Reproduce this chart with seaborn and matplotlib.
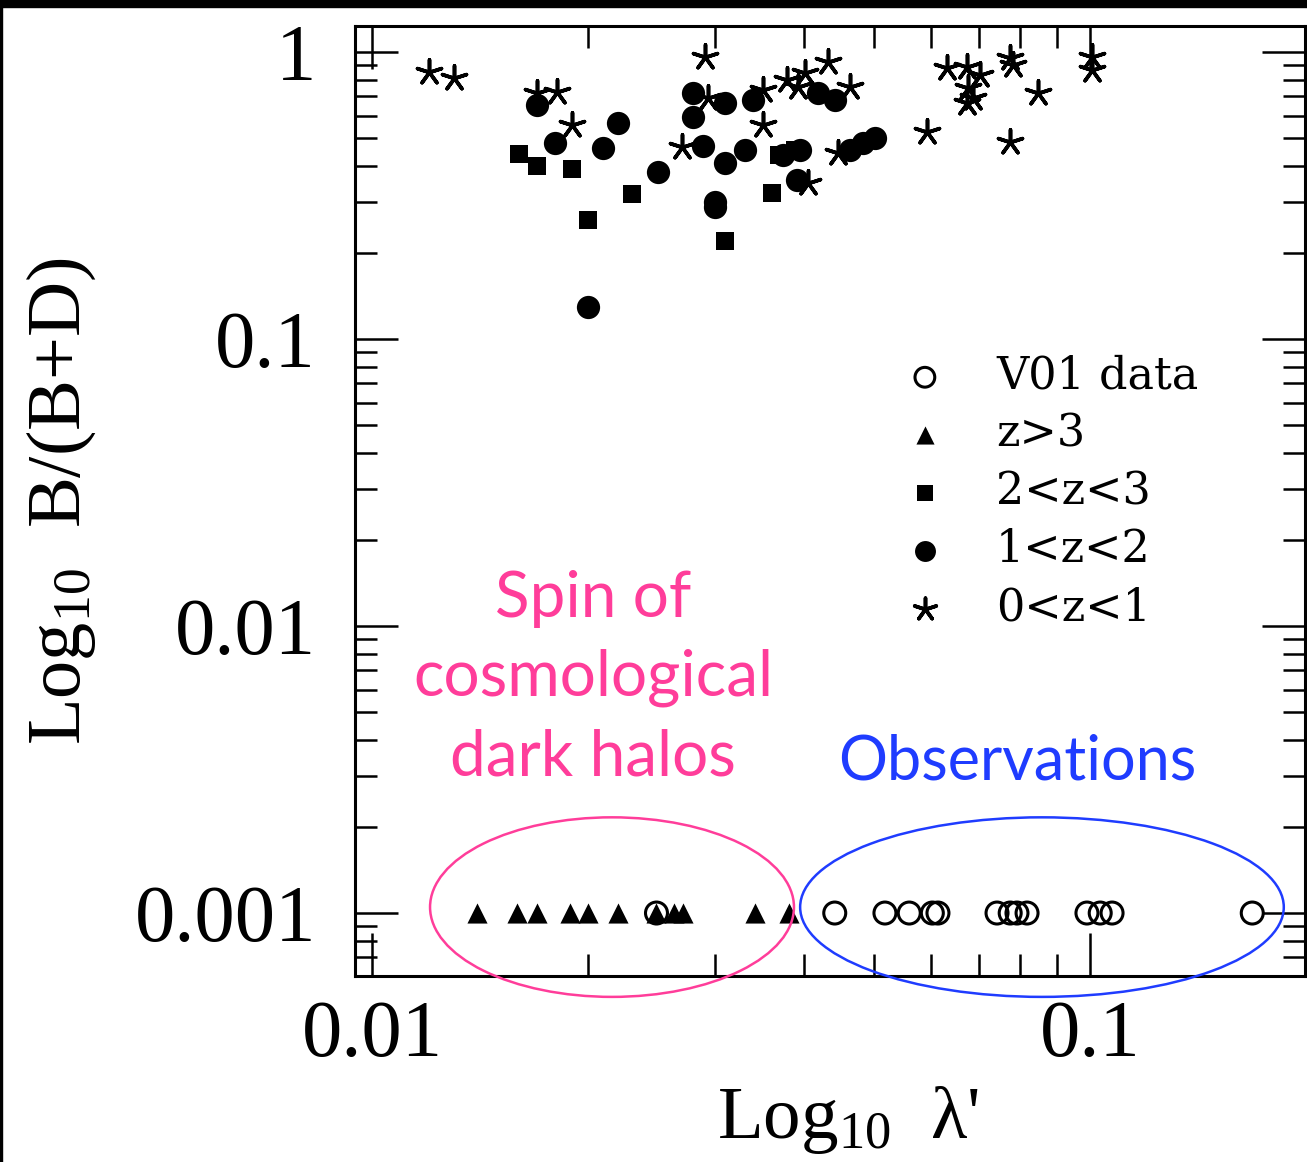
import numpy as np
import pandas as pd
import matplotlib
matplotlib.use("Agg")
import matplotlib.pyplot as plt
from matplotlib.patches import Ellipse, Rectangle
from matplotlib.ticker import LogLocator, NullFormatter
import seaborn as sns

# V01 data (open circles)
v01_lam = [0.0249, 0.0441, 0.0518, 0.0560, 0.0603, 0.0614, 0.0742, 0.0774,
           0.0791, 0.0817, 0.0990, 0.1033, 0.1073, 0.1682]
v01_bd = [0.001, 0.001, 0.001, 0.001, 0.001, 0.001, 0.001, 0.001,
          0.001, 0.001, 0.001, 0.001, 0.001, 0.001]

# z > 3 (triangles)
z3_lam = [0.0140, 0.0159, 0.0170, 0.0189, 0.0200, 0.0220, 0.0249, 0.0263,
          0.0271, 0.0342, 0.0381]
z3_bd = [0.001, 0.001, 0.001, 0.001, 0.001, 0.001, 0.001, 0.001,
         0.001, 0.001, 0.001]

# 2 < z < 3 (squares)
z23_lam = [0.0160, 0.0170, 0.0190, 0.0230, 0.0200, 0.0361, 0.0310, 0.0369, 0.0388]
z23_bd = [0.441, 0.401, 0.391, 0.320, 0.260, 0.323, 0.220, 0.438, 0.456]

# 1 < z < 2 (filled circles)
z12_lam = [0.0170, 0.0220, 0.0180, 0.0210, 0.0250, 0.0200, 0.0280, 0.0280,
           0.0310, 0.0339, 0.0289, 0.0310, 0.0331, 0.0300, 0.0300, 0.0418,
           0.0441, 0.0374, 0.0395, 0.0391, 0.0463, 0.0483, 0.0502]
z12_bd = [0.654, 0.566, 0.482, 0.463, 0.382, 0.129, 0.720, 0.594,
          0.664, 0.681, 0.471, 0.410, 0.456, 0.300, 0.288, 0.720,
          0.681, 0.438, 0.456, 0.358, 0.456, 0.482, 0.502]

# 0 < z < 1 (asterisks)
z01_lam = [0.0120, 0.0130, 0.0170, 0.0181, 0.0190, 0.0291, 0.0294, 0.0270,
           0.0350, 0.0350, 0.0378, 0.0401, 0.0392, 0.0432, 0.0463, 0.0405,
           0.0446, 0.0632, 0.0674, 0.0703, 0.0677, 0.0674, 0.0687, 0.0774,
           0.0781, 0.0846, 0.0593, 0.0774, 0.1006, 0.1006]
z01_bd = [0.852, 0.812, 0.720, 0.726, 0.557, 0.961, 0.691, 0.467,
          0.737, 0.557, 0.799, 0.845, 0.755, 0.923, 0.755, 0.350,
          0.445, 0.880, 0.887, 0.832, 0.749, 0.664, 0.691, 0.953,
          0.901, 0.720, 0.526, 0.486, 0.961, 0.866]

x_ticks = [0.01, 0.1]
x_ticklabels = ["0.01", "0.1"]
y_ticks = [0.001, 0.01, 0.1, 1]
y_ticklabels = ["0.001", "0.01", "0.1", "1"]

PINK = "#ff3d9a"
BLUE = "#1f3cff"

sns.set_style("ticks")
plt.rcParams["font.family"] = ["Liberation Serif", "DejaVu Serif"]
plt.rcParams["mathtext.fontset"] = "custom"
plt.rcParams["mathtext.rm"] = "Liberation Serif"
plt.rcParams["mathtext.it"] = "Liberation Serif:italic"
plt.rcParams["text.color"] = "black"
plt.rcParams["axes.labelcolor"] = "black"
plt.rcParams["xtick.color"] = "black"
plt.rcParams["ytick.color"] = "black"

fig = plt.figure(figsize=(13.07, 11.62), dpi=100)
ax = fig.add_axes([0.2716, 0.160, 0.727, 0.8176])

sns.scatterplot(x=v01_lam, y=v01_bd, ax=ax, marker="o", s=250, color="black",
                facecolor="none", edgecolor="black", linewidth=2.2, label="V01 data",
                zorder=3)
sns.scatterplot(x=z3_lam, y=z3_bd, ax=ax, marker="^", s=210, color="black",
                edgecolor="black", linewidth=0, label="z>3", zorder=3)
sns.scatterplot(x=z23_lam, y=z23_bd, ax=ax, marker="s", s=150, color="black",
                edgecolor="black", linewidth=0, label="2<z<3", zorder=3)
sns.scatterplot(x=z12_lam, y=z12_bd, ax=ax, marker="o", s=280, color="black",
                edgecolor="black", linewidth=0, label="1<z<2", zorder=3)
sns.scatterplot(x=z01_lam, y=z01_bd, ax=ax, marker=(5, 2, 0), s=330, color="black",
                edgecolor="black", linewidth=2.6, label="0<z<1", zorder=3)

ax.set_xscale("log")
ax.set_yscale("log")
ax.set_xlim(0.00947, 0.1993)
ax.set_ylim(0.000603, 1.232)

ax.set_xticks(x_ticks)
ax.set_xticklabels(x_ticklabels)
ax.set_yticks(y_ticks)
ax.set_yticklabels(y_ticklabels)
ax.xaxis.set_minor_locator(LogLocator(base=10, subs=np.arange(2, 10), numticks=20))
ax.yaxis.set_minor_locator(LogLocator(base=10, subs=np.arange(2, 10), numticks=20))
ax.xaxis.set_minor_formatter(NullFormatter())
ax.yaxis.set_minor_formatter(NullFormatter())

ax.tick_params(which="both", direction="in", top=True, right=True, width=1.8,
               color="black", labelcolor="black")
ax.tick_params(which="major", length=31, labelsize=58)
ax.tick_params(which="minor", length=16)
ax.tick_params(axis="x", which="major", pad=17)
ax.tick_params(axis="y", which="major", pad=28)
for sp in ax.spines.values():
    sp.set_linewidth(2.2)
    sp.set_color("black")

ax.set_xlabel("Log$_{10}$  λ'", fontsize=54)
ax.set_ylabel("Log$_{10}$  B/(B+D)", fontsize=55)
ax.xaxis.set_label_coords(0.519, -0.114)
ax.yaxis.set_label_coords(-0.27, 0.5)

leg = ax.legend(loc="upper left", bbox_to_anchor=(0.553, 0.654), frameon=False,
                prop={"family": "DejaVu Serif", "size": 32}, markerscale=0.9,
                handletextpad=0.6, labelspacing=0.33, borderpad=0,
                borderaxespad=0, scatterpoints=1)

# annotation ellipses and hand-written notes
ax.add_patch(Ellipse((0.2705, 0.0726), 0.383, 0.189, transform=ax.transAxes,
                     fill=False, edgecolor=PINK, linewidth=1.8, clip_on=False,
                     zorder=4))
ax.add_patch(Ellipse((0.723, 0.0726), 0.509, 0.189, transform=ax.transAxes,
                     fill=False, edgecolor=BLUE, linewidth=1.8, clip_on=False,
                     zorder=4))
ax.text(0.2505, 0.3137, "Spin of\ncosmological\ndark halos", transform=ax.transAxes,
        ha="center", va="center", color=PINK, fontsize=46, family="Lato",
        linespacing=1.45)
ax.text(0.697, 0.2253, "Observations", transform=ax.transAxes, ha="center",
        va="center", color=BLUE, fontsize=44, family="Lato")

fig.patches.append(Rectangle((0, 1 - 7 / 1162), 1, 7 / 1162, transform=fig.transFigure,
                             color="black", zorder=10))
fig.patches.append(Rectangle((0, 0), 2 / 1307, 1, transform=fig.transFigure,
                             color="black", zorder=10))

fig.savefig("out.png", dpi=100, facecolor="white")
